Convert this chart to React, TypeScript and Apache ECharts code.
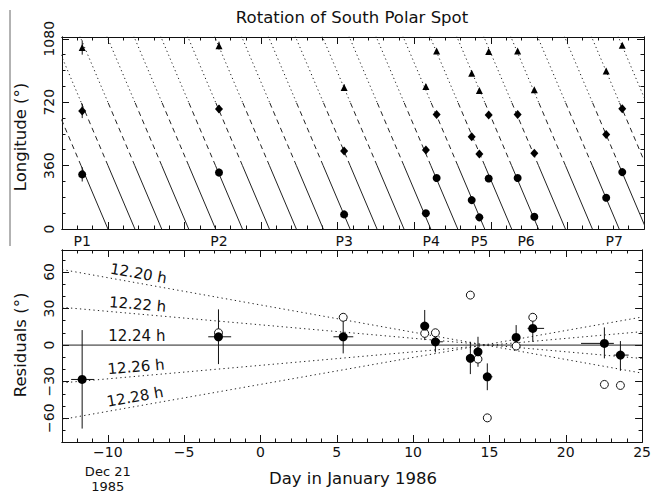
import React, { useEffect, useRef } from "react";
import * as echarts from "echarts";

const FONT = '"DejaVu Sans", sans-serif';
const INK = "#111";

// ---------- data ----------
const dayMin = -13;
const dayMax = 25;

// observations (days since Jan 0, 1986)
const obsDays = [-11.68, -2.75, 5.42, 10.76, 11.46, 13.75, 14.25, 14.86, 16.75, 17.84, 22.53, 23.58];
// longitude of the spot (0-360 band)
const obsLongitude = [310, 321, 83, 89, 290, 164, 66, 287, 290, 70, 177, 323];
// residuals (filled circles)
const residuals = [-28.2, 6.8, 6.8, 15.6, 2.7, -10.9, -5.5, -26, 6.3, 13.7, 1.4, -8.2];
const residualLow = [-68.5, -15.6, -6.8, 4.1, -6.0, -23.8, -17.8, -37, -1.4, 2.7, -10.9, -21.1];
const residualHigh = [12.3, 29.3, 24.6, 28.8, 11.0, 2.7, 6.8, -15, 16.4, 20.5, 14.5, 3.3];
const dayLow = [-12.4, -3.42, 4.78, 10.5, 11.19, 13.75, 14.25, 14.86, 16.75, 17.5, 21.0, 23.15];
const dayHigh = [-10.9, -1.92, 6.08, 11.05, 11.95, 13.75, 14.25, 15.2, 16.75, 18.58, 23.15, 24.12];

// open circles (alternative residuals)
const openDays = [-2.75, 5.42, 10.76, 11.46, 13.75, 14.25, 14.86, 16.75, 17.84, 22.53, 23.58];
const openResiduals = [10.1, 22.8, 9.6, 10.1, 41, -11.5, -59.7, -0.8, 22.8, -32.3, -33.1];

// model drift lines of the top panel: days where each line reaches longitude 0
const modelZeroDays = [-10.0, -8.24, -6.49, -4.73, -2.97, -1.22, 0.54, 2.3, 4.06, 5.81, 7.57, 9.33,
  11.08, 12.84, 14.6, 16.36, 18.11, 19.87, 21.63, 23.38, 25.14, 26.9, 28.65];
const driftRate = 204.9; // degrees per day
const bandEdges = [0, 360, 720, 1100];

// period lines of the bottom panel
const periodLabels = ["12.20 h", "12.22 h", "12.24 h", "12.26 h", "12.28 h"];
const periodStart = [62, 31, 0, -31, -61]; // residual at dayMin
const periodEnd = [-23, -11, 0, 11, 23]; // residual at dayMax

// apparition labels
const pLabels = ["P1", "P2", "P3", "P4", "P5", "P6", "P7"];
const pLabelDays = [-11.68, -2.75, 5.42, 11.1, 14.25, 17.3, 23.05];

// date note under the −10 tick
const dateNoteDay = -10;
const dateNoteLines = ["Dec 21", "1985"];

// ticks
const majorDays = [-10, -5, 0, 5, 10, 15, 20, 25];
const minorDays = [-13, -12, -11, -10, -9, -8, -7, -6, -5, -4, -3, -2, -1, 0, 1, 2, 3, 4, 5, 6, 7, 8, 9, 10,
  11, 12, 13, 14, 15, 16, 17, 18, 19, 20, 21, 22, 23, 24, 25];
const lonMajor = [0, 360, 720, 1080];
const lonMinor = [0, 90, 180, 270, 360, 450, 540, 630, 720, 810, 900, 990, 1080];
const resMajor = [-60, -30, 0, 30, 60];
const resMinor = [-70, -60, -50, -40, -30, -20, -10, 0, 10, 20, 30, 40, 50, 60, 70];
const resMin = -79.5;
const resMax = 78;

const minusFmt = (v: number) => (v < 0 ? "\u2212" + Math.abs(v) : String(v));

export default function App() {
  const ref = useRef<HTMLDivElement>(null);

  useEffect(() => {
    const chart = echarts.init(ref.current!, null, { renderer: "svg" });

    const lineStyle = { color: INK, width: 1 };

    const xAxis = (grid: number, position: string, ticks: number[], len: number, labels: boolean) => ({
      type: "value",
      gridIndex: grid,
      position,
      min: dayMin,
      max: dayMax,
      axisLine: { show: true, onZero: false, lineStyle },
      axisTick: { show: true, inside: true, length: len, customValues: ticks, lineStyle },
      axisLabel: labels
        ? {
            show: true,
            customValues: majorDays,
            margin: 3,
            color: INK,
            fontSize: 14,
            fontFamily: FONT,
            formatter: (v: number) => minusFmt(v),
          }
        : { show: false },
      splitLine: { show: false },
    });

    const yAxis = (grid: number, position: string, min: number, max: number, ticks: number[], len: number,
      labels: number[] | null) => ({
      type: "value",
      gridIndex: grid,
      position,
      min,
      max,
      axisLine: { show: true, onZero: false, lineStyle },
      axisTick: { show: true, inside: true, length: len, customValues: ticks, lineStyle },
      axisLabel: labels
        ? {
            show: true,
            customValues: labels,
            rotate: 90,
            margin: 6,
            color: INK,
            fontSize: 14,
            fontFamily: FONT,
            formatter: (v: number) => minusFmt(v),
          }
        : { show: false },
      splitLine: { show: false },
    });

    const series: any[] = [];

    // model drift lines, styled by longitude band
    const bandTypes: any[] = ["solid", [5, 4], [1.2, 3]];
    modelZeroDays.forEach((z) => {
      for (let b = 0; b < 3; b++) {
        const lo = bandEdges[b];
        const hi = bandEdges[b + 1];
        series.push({
          type: "line",
          xAxisIndex: 0,
          yAxisIndex: 0,
          data: [
            [z - lo / driftRate, lo],
            [z - hi / driftRate, hi],
          ],
          symbol: "none",
          clip: true,
          silent: true,
          z: 1,
          lineStyle: { color: "#222", width: 1, type: bandTypes[b] },
        });
      }
    });

    const errLo = residuals.map((r, i) => r - residualLow[i]);
    const errHi = residuals.map((r, i) => residualHigh[i] - r);

    // top panel vertical error bars
    const topBars: number[][] = [];
    [0, 360, 720].forEach((off) => {
      obsDays.forEach((d, i) => {
        const L = obsLongitude[i] + off;
        topBars.push([d, L - errLo[i], L + errHi[i]]);
      });
    });
    series.push({
      type: "custom",
      xAxisIndex: 0,
      yAxisIndex: 0,
      z: 2,
      silent: true,
      data: topBars,
      renderItem: (params: any, api: any) => {
        const p1 = api.coord([api.value(0), api.value(1)]);
        const p2 = api.coord([api.value(0), api.value(2)]);
        return {
          type: "line",
          shape: { x1: p1[0], y1: p1[1], x2: p2[0], y2: p2[1] },
          style: { stroke: INK, lineWidth: 1 },
        };
      },
    });

    const markerSeries = (symbol: string, size: any, off: number) => ({
      type: "scatter",
      xAxisIndex: 0,
      yAxisIndex: 0,
      symbol,
      symbolSize: size,
      z: 4,
      silent: true,
      itemStyle: { color: "#000", opacity: 1 },
      data: obsDays.map((d, i) => [d, obsLongitude[i] + off]),
    });
    series.push(markerSeries("circle", 8, 0));
    series.push(markerSeries("diamond", [8, 9], 360));
    series.push(markerSeries("triangle", 7, 720));

    // P labels
    series.push({
      type: "custom",
      xAxisIndex: 0,
      yAxisIndex: 0,
      z: 5,
      silent: true,
      data: pLabelDays.map((d) => [d, 0]),
      renderItem: (params: any, api: any) => {
        const p = api.coord([api.value(0), 0]);
        return {
          type: "text",
          x: p[0],
          y: p[1] + 12,
          style: {
            text: pLabels[params.dataIndex],
            fill: INK,
            fontSize: 14,
            fontFamily: FONT,
            align: "center",
            verticalAlign: "middle",
            textAlign: "center",
            textVerticalAlign: "middle",
          },
        };
      },
    });

    // bottom panel period lines
    periodLabels.forEach((lab, i) => {
      series.push({
        type: "line",
        xAxisIndex: 4,
        yAxisIndex: 4,
        data: [
          [dayMin, periodStart[i]],
          [dayMax, periodEnd[i]],
        ],
        symbol: "none",
        clip: true,
        silent: true,
        z: 1,
        lineStyle: { color: "#222", width: 1, type: periodStart[i] === 0 ? "solid" : [1.3, 3.2] },
      });
    });

    const labelDay = -8.1;
    series.push({
      type: "custom",
      xAxisIndex: 4,
      yAxisIndex: 4,
      z: 5,
      silent: true,
      data: periodLabels.map((_, i) => [labelDay, i]),
      renderItem: (params: any, api: any) => {
        const i = params.dataIndex;
        const a = api.coord([dayMin, periodStart[i]]);
        const b = api.coord([dayMax, periodEnd[i]]);
        const t = (labelDay - dayMin) / (dayMax - dayMin);
        const v = periodStart[i] + (periodEnd[i] - periodStart[i]) * t;
        const p = api.coord([labelDay, v]);
        const rot = -Math.atan2(b[1] - a[1], b[0] - a[0]);
        return {
          type: "text",
          x: p[0],
          y: p[1],
          rotation: rot,
          style: {
            text: periodLabels[i],
            x: 0,
            y: -2,
            fill: INK,
            fontSize: 15,
            fontFamily: FONT,
            align: "center",
            verticalAlign: "bottom",
            textAlign: "center",
            textVerticalAlign: "bottom",
          },
        };
      },
    });

    // date note below the −10 tick label
    series.push({
      type: "custom",
      xAxisIndex: 4,
      yAxisIndex: 4,
      z: 5,
      silent: true,
      data: dateNoteLines.map((_, i) => [dateNoteDay, i]),
      renderItem: (params: any, api: any) => {
        const p = api.coord([dateNoteDay, resMin]);
        return {
          type: "text",
          x: p[0],
          y: p[1] + 29 + params.dataIndex * 15,
          style: {
            text: dateNoteLines[params.dataIndex],
            fill: INK,
            fontSize: 13,
            fontFamily: FONT,
            align: "center",
            verticalAlign: "middle",
            textAlign: "center",
            textVerticalAlign: "middle",
          },
        };
      },
    });

    // bottom error bars
    series.push({
      type: "custom",
      xAxisIndex: 4,
      yAxisIndex: 4,
      z: 2,
      silent: true,
      data: obsDays.map((d, i) => [d, residualLow[i], residualHigh[i], dayLow[i], dayHigh[i], residuals[i]]),
      renderItem: (params: any, api: any) => {
        const x = api.value(0);
        const y = api.value(5);
        const p1 = api.coord([x, api.value(1)]);
        const p2 = api.coord([x, api.value(2)]);
        const q1 = api.coord([api.value(3), y]);
        const q2 = api.coord([api.value(4), y]);
        const st = { stroke: INK, lineWidth: 1 };
        return {
          type: "group",
          children: [
            { type: "line", shape: { x1: p1[0], y1: p1[1], x2: p2[0], y2: p2[1] }, style: st },
            { type: "line", shape: { x1: q1[0], y1: q1[1], x2: q2[0], y2: q2[1] }, style: st },
          ],
        };
      },
    });

    series.push({
      type: "scatter",
      xAxisIndex: 4,
      yAxisIndex: 4,
      symbol: "circle",
      symbolSize: 8,
      z: 3,
      silent: true,
      itemStyle: { color: "#fff", borderColor: INK, borderWidth: 1, opacity: 1 },
      data: openDays.map((d, i) => [d, openResiduals[i]]),
    });
    series.push({
      type: "scatter",
      xAxisIndex: 4,
      yAxisIndex: 4,
      symbol: "circle",
      symbolSize: 9,
      z: 4,
      silent: true,
      itemStyle: { color: "#000", opacity: 1 },
      data: obsDays.map((d, i) => [d, residuals[i]]),
    });

    const option: any = {
      animation: false,
      backgroundColor: "#fff",
      grid: [
        { left: 62, right: 10, top: 37, height: 192 },
        { left: 62, right: 10, top: 250, height: 192 },
      ],
      xAxis: [
        xAxis(0, "bottom", majorDays, 7, false),
        xAxis(0, "bottom", minorDays, 3.5, false),
        xAxis(0, "top", majorDays, 7, false),
        xAxis(0, "top", minorDays, 3.5, false),
        xAxis(1, "bottom", majorDays, 7, true),
        xAxis(1, "bottom", minorDays, 3.5, false),
        xAxis(1, "top", majorDays, 7, false),
        xAxis(1, "top", minorDays, 3.5, false),
      ],
      yAxis: [
        yAxis(0, "left", 0, 1090, lonMajor, 7, lonMajor),
        yAxis(0, "left", 0, 1090, lonMinor, 3.5, null),
        yAxis(0, "right", 0, 1090, lonMajor, 7, null),
        yAxis(0, "right", 0, 1090, lonMinor, 3.5, null),
        yAxis(1, "left", resMin, resMax, resMajor, 7, resMajor),
        yAxis(1, "left", resMin, resMax, resMinor, 3.5, null),
        yAxis(1, "right", resMin, resMax, resMajor, 7, null),
        yAxis(1, "right", resMin, resMax, resMinor, 3.5, null),
      ],
      graphic: [
        {
          type: "line",
          shape: { x1: 10, y1: 10, x2: 10, y2: 246 },
          style: { stroke: "#666", lineWidth: 1 },
        },
        {
          type: "text",
          x: 352,
          y: 17,
          style: {
            text: "Rotation of South Polar Spot",
            fill: INK,
            fontSize: 16.5,
            fontFamily: FONT,
            textAlign: "center",
            textVerticalAlign: "middle",
          },
        },
        {
          type: "text",
          x: 353,
          y: 478,
          style: {
            text: "Day in January 1986",
            fill: INK,
            fontSize: 16.5,
            fontFamily: FONT,
            textAlign: "center",
            textVerticalAlign: "middle",
          },
        },
        {
          type: "text",
          x: 20,
          y: 137,
          rotation: Math.PI / 2,
          style: {
            text: "Longitude (\u00b0)",
            fill: INK,
            fontSize: 16.5,
            fontFamily: FONT,
            textAlign: "center",
            textVerticalAlign: "middle",
          },
        },
        {
          type: "text",
          x: 20,
          y: 345,
          rotation: Math.PI / 2,
          style: {
            text: "Residuals (\u00b0)",
            fill: INK,
            fontSize: 16.5,
            fontFamily: FONT,
            textAlign: "center",
            textVerticalAlign: "middle",
          },
        },
      ],
      series,
    };

    chart.setOption(option);
    return () => chart.dispose();
  }, []);

  return (
    <div
      ref={ref}
      style={{ position: "absolute", left: 0, top: 0, width: 654, height: 492, background: "#fff" }}
    />
  );
}
